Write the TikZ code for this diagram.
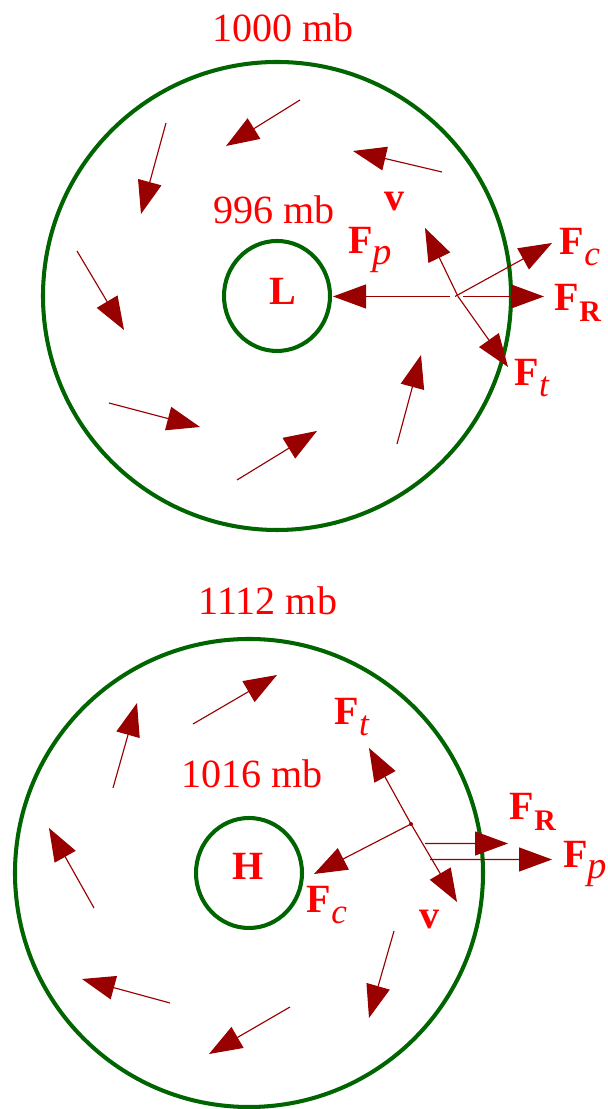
\documentclass[tikz,border=0pt]{standalone}
\usepackage{fontspec}
\setmainfont{Liberation Serif}
\usetikzlibrary{arrows.meta}
\definecolor{isogreen}{RGB}{0,100,0}
\definecolor{winddark}{RGB}{153,0,0}
\newcommand{\forcesub}[2]{\raisebox{-6pt}{\fontsize{#1}{#1}\selectfont #2}}

\begin{document}
\begin{tikzpicture}[
  isobar/.style={draw=isogreen, line width=2.3pt},
  wind/.style={winddark, line width=0.65pt, -{Triangle[length=0.66cm,width=0.48cm]}},
  lab/.style={text=red, font=\fontsize{22.8}{27}\selectfont, inner sep=0pt}
]
\useasboundingbox (0,0) rectangle (12.14,22.18);

% low pressure centre
\begin{scope}[shift={(5.54,16.26)}]
\draw[isobar] (0,0) circle (4.68);
\draw[isobar] (0,0) ellipse (1.06 and 1.1);
\node[lab] (p1000) at (0.12,5.37) {1000 mb};
\node[lab] (p996) at (-0.06,1.72) {996 mb};
\node[lab] (low) at (0.12,0.10) {\textbf{L}};
\draw[wind] (0.46,3.92) -- (-1.02,3.00);
\draw[wind] (-2.22,3.46) -- (-2.72,1.64);
\draw[wind] (-4.00,0.90) -- (-3.06,-0.68);
\draw[wind] (-3.36,-2.14) -- (-1.54,-2.62);
\draw[wind] (-0.80,-3.68) -- (0.80,-2.70);
\draw[wind] (2.40,-2.96) -- (2.88,-1.18);
\draw[wind] (3.30,2.48) -- (1.52,2.90);
% forces on the parcel
\coordinate (o1) at (3.62,-0.01);
\coordinate (v1) at (2.96,1.36);
\coordinate (ft1) at (4.62,-1.42);
\coordinate (fc1) at (5.50,1.06);
\coordinate (fp1) at (1.12,-0.01);
\coordinate (fr1) at (5.34,-0.01);
\draw[wind] ([xshift=-0.16cm]o1) -- (fp1);
\draw[wind] ([xshift=0.10cm]o1) -- (fr1);
\draw[wind] ([xshift=-0.06cm]o1) -- (fc1);
\draw[wind] (o1) -- (v1);
\draw[wind] (o1) -- (ft1);
\node[lab] (v1lab) at (2.36,1.88) {\textbf{v}};
\node[lab] (fp1lab) at (1.86,0.92) {\textbf{F}\forcesub{22}{\textit{p}}};
\node[lab] (fc1lab) at (6.06,0.98) {\textbf{F}\forcesub{20}{\textit{c}}};
\node[lab] (fr1lab) at (6.02,-0.14) {\textbf{F}\forcesub{17}{\textbf{R}}};
\node[lab] (ft1lab) at (5.10,-1.64) {\textbf{F}\forcesub{20}{\textit{t}}};
\end{scope}

% high pressure centre
\begin{scope}[shift={(4.98,4.72)}]
\draw[isobar] (0,0) circle (4.68);
\draw[isobar] (0,0) ellipse (1.06 and 1.1);
\node[lab] (p1112) at (0.38,5.44) {1112 mb};
\node[lab] (p1016) at (0.06,1.98) {1016 mb};
\node[lab] (high) at (-0.02,0.14) {\textbf{H}};
\draw[wind] (-1.12,2.98) -- (0.56,3.96);
\draw[wind] (-2.72,1.70) -- (-2.24,3.40);
\draw[wind] (-3.10,-0.70) -- (-4.00,0.90);
\draw[wind] (-1.58,-2.60) -- (-3.34,-2.12);
\draw[wind] (0.82,-2.68) -- (-0.80,-3.62);
\draw[wind] (2.90,-1.16) -- (2.40,-2.90);
% forces on the parcel
\coordinate (o2) at (3.24,0.98);
\coordinate (v2) at (4.16,-0.58);
\coordinate (ft2) at (2.40,2.50);
\coordinate (fc2) at (1.30,-0.02);
\coordinate (fr2) at (5.18,0.59);
\coordinate (fp2) at (6.06,0.27);
\fill[winddark] (o2) circle (0.04);
\draw[wind] (o2) -- (ft2);
\draw[wind] (o2) -- (v2);
\draw[wind] (o2) -- (fc2);
\draw[wind] ([xshift=0.28cm,yshift=-0.39cm]o2) -- (fr2);
\draw[wind] ([xshift=0.38cm,yshift=-0.71cm]o2) -- (fp2);
\node[lab] (ft2lab) at (2.06,3.12) {\textbf{F}\forcesub{20}{\textit{t}}};
\node[lab] (v2lab) at (3.62,-0.94) {\textbf{v}};
\node[lab] (fc2lab) at (1.56,-0.64) {\textbf{F}\forcesub{20}{\textit{c}}};
\node[lab] (fr2lab) at (5.68,1.22) {\textbf{F}\forcesub{17}{\textbf{R}}};
\node[lab] (fp2lab) at (6.72,0.18) {\textbf{F}\forcesub{22}{\textit{p}}};
\end{scope}
\end{tikzpicture}
\end{document}
